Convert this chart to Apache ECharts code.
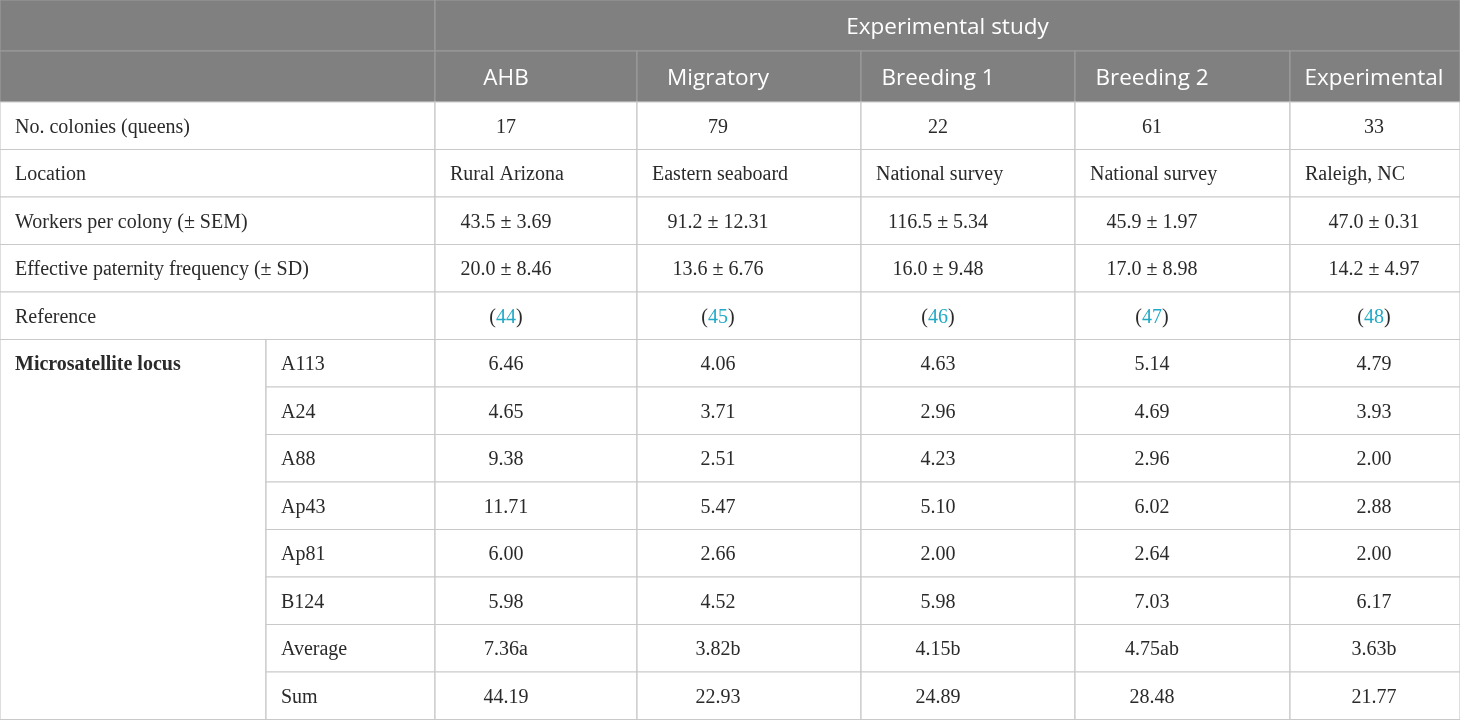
<!DOCTYPE html>
<html>
<head>
<meta charset="utf-8">
<script src="https://cdn.jsdelivr.net/npm/echarts@6/dist/echarts.min.js"></script>
<style>
  html, body { margin: 0; padding: 0; background: #fff; }
  #table { width: 1460px; height: 720px; }
</style>
</head>
<body>
<div id="table"></div>
<script>
/*--- table data ---*/
var studies = ['AHB', 'Migratory', 'Breeding 1', 'Breeding 2', 'Experimental'];
var colonies = [17, 79, 22, 61, 33];
var locations = ['Rural Arizona', 'Eastern seaboard', 'National survey', 'National survey', 'Raleigh, NC'];
var workersMean = [43.5, 91.2, 116.5, 45.9, 47.0];
var workersSem = [3.69, 12.31, 5.34, 1.97, 0.31];
var paternityMean = [20.0, 13.6, 16.0, 17.0, 14.2];
var paternitySd = [8.46, 6.76, 9.48, 8.98, 4.97];
var references = [44, 45, 46, 47, 48];
var loci = ['A113', 'A24', 'A88', 'Ap43', 'Ap81', 'B124'];
var a113 = [6.46, 4.06, 4.63, 5.14, 4.79];
var a24 = [4.65, 3.71, 2.96, 4.69, 3.93];
var a88 = [9.38, 2.51, 4.23, 2.96, 2.00];
var ap43 = [11.71, 5.47, 5.10, 6.02, 2.88];
var ap81 = [6.00, 2.66, 2.00, 2.64, 2.00];
var b124 = [5.98, 4.52, 5.98, 7.03, 6.17];
var average = [7.36, 3.82, 4.15, 4.75, 3.63];
var averageGroup = ['a', 'b', 'b', 'ab', 'b'];
var sums = [44.19, 22.93, 24.89, 28.48, 21.77];
var rowLabels = ['No. colonies (queens)', 'Location', 'Workers per colony (\u00b1 SEM)',
	'Effective paternity frequency (\u00b1 SD)', 'Reference'];

/*--- layout ---*/
var colEdges = [0, 266, 435, 637, 861, 1075, 1290, 1460];
var valueCenters = [506, 718, 938, 1152, 1374];
var rowEdges = [0, 51, 102];
for (var i = 1; i <= 13; i++) rowEdges.push(102 + 47.5 * i);

var serif = '"Liberation Serif", "DejaVu Serif", serif';
var sans = '"Open Sans", "Noto Sans", sans-serif';

/*--- build cells ---*/
var cells = [];
function cell(c0, c1, r0, r1, text, opt) {
	opt = opt || {};
	cells.push({
		c0: c0, c1: c1, r0: r0, r1: r1, text: text,
		head: !!opt.head, align: opt.align || 'left',
		cx: opt.cx, bold: !!opt.bold, topRow: !!opt.topRow, rich: opt.rich
	});
}

// header rows
cell(0, 2, 0, 1, '', { head: true });
cell(2, 7, 0, 1, 'Experimental study', { head: true, align: 'center', cx: (colEdges[2] + colEdges[7]) / 2 });
cell(0, 2, 1, 2, '', { head: true });
studies.forEach(function(s, j) {
	cell(j + 2, j + 3, 1, 2, s, { head: true, align: 'center', cx: valueCenters[j] });
});

// study description rows
var descRows = [
	colonies.map(String),
	locations,
	workersMean.map(function(m, j) { return m.toFixed(1) + ' \u00b1 ' + workersSem[j].toFixed(2); }),
	paternityMean.map(function(m, j) { return m.toFixed(1) + ' \u00b1 ' + paternitySd[j].toFixed(2); }),
	references.map(function(r) { return '{p|(}{r|' + r + '}{p|)}'; })
];
descRows.forEach(function(vals, k) {
	var r = k + 2;
	cell(0, 2, r, r + 1, rowLabels[k]);
	vals.forEach(function(v, j) {
		if (k === 1) {
			cell(j + 2, j + 3, r, r + 1, v, { align: 'left' });
		} else {
			cell(j + 2, j + 3, r, r + 1, v, { align: 'center', cx: valueCenters[j], rich: k === 4 });
		}
	});
});

// microsatellite rows
var locusRows = [a113, a24, a88, ap43, ap81, b124];
var locusLabels = loci.concat(['Average', 'Sum']);
var locusVals = locusRows.map(function(row) {
	return row.map(function(v) { return v.toFixed(2); });
});
locusVals.push(average.map(function(v, j) { return v.toFixed(2) + averageGroup[j]; }));
locusVals.push(sums.map(function(v) { return v.toFixed(2); }));

cell(0, 1, 7, 15, 'Microsatellite locus', { bold: true, topRow: true });
locusVals.forEach(function(vals, k) {
	var r = k + 7;
	cell(1, 2, r, r + 1, locusLabels[k]);
	vals.forEach(function(v, j) {
		cell(j + 2, j + 3, r, r + 1, v, { align: 'center', cx: valueCenters[j] });
	});
});

/*--- chart ---*/
var myTable = echarts.init(document.getElementById('table'));

function renderCell(params, api) {
	var c = cells[params.dataIndex];
	var p0 = api.coord([colEdges[c.c0], rowEdges[c.r0]]);
	var p1 = api.coord([colEdges[c.c1], rowEdges[c.r1]]);
	var midY = c.topRow ? api.coord([0, (rowEdges[c.r0] + rowEdges[c.r0 + 1]) / 2])[1] : (p0[1] + p1[1]) / 2;
	var tx = c.align === 'center' ? api.coord([c.cx, 0])[0] : p0[0] + 15;
	var textStyle = {
		text: c.text,
		x: tx,
		y: midY + (c.head ? 2.5 : 1.5),
		align: c.align,
		verticalAlign: 'middle',
		fill: c.head ? '#ffffff' : '#2a2a2a',
		fontFamily: c.head ? sans : serif,
		fontSize: c.head ? 22.5 : 20,
		fontWeight: c.bold ? 'bold' : 'normal'
	};
	if (c.rich) {
		textStyle.rich = {
			p: { fill: '#2a2a2a', fontFamily: serif, fontSize: 20 },
			r: { fill: '#21a9c6', fontFamily: serif, fontSize: 20 }
		};
	}
	return {
		type: 'group',
		children: [{
			type: 'rect',
			shape: { x: p0[0], y: p0[1], width: p1[0] - p0[0], height: p1[1] - p0[1] },
			style: {
				fill: c.head ? '#808080' : '#ffffff',
				stroke: c.head ? '#9c9c9c' : '#c9c9c9',
				lineWidth: 1.2
			}
		}, {
			type: 'text',
			style: textStyle
		}]
	};
}

var option = {
	animation: false,
	grid: { left: 0, right: 0, top: 0, bottom: 0 },
	xAxis: { type: 'value', min: 0, max: 1460, show: false },
	yAxis: { type: 'value', min: 0, max: 720, inverse: true, show: false },
	series: [{
		type: 'custom',
		renderItem: renderCell,
		clip: false,
		silent: true,
		data: cells.map(function(c) {
			return [colEdges[c.c0], rowEdges[c.r0], colEdges[c.c1], rowEdges[c.r1]];
		})
	}]
};
myTable.setOption(option);
/*--- chart closed ---*/
</script>
</body>
</html>
